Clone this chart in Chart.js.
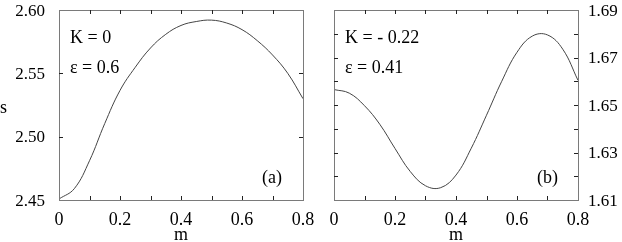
<!DOCTYPE html>
<html><head><meta charset="utf-8">
<script src="https://cdn.jsdelivr.net/npm/chart.js@4/dist/chart.umd.min.js"></script>
<style>
html,body{margin:0;padding:0;background:#fff;width:622px;height:242px;overflow:hidden}
canvas{position:absolute;top:0}
#ca{left:0}
#cb{left:300px}
#ov{position:absolute;left:0;top:0;width:622px;height:242px;pointer-events:none}
#ov span{position:absolute;white-space:nowrap;color:#000}
</style></head><body>
<canvas id="ca" width="330" height="242"></canvas>
<canvas id="cb" width="322" height="242"></canvas>
<div id="ov"></div>
<script>
// ---- data ----
const mValues = [0, 0.05, 0.1, 0.15, 0.2, 0.25, 0.3, 0.35, 0.4, 0.45, 0.5, 0.55, 0.6, 0.65, 0.7, 0.75, 0.8];
const sPanelA = [2.4508, 2.4589, 2.4810, 2.5104, 2.5365, 2.5548, 2.5700, 2.5808, 2.5878, 2.5909, 2.5920, 2.5897, 2.5845, 2.5758, 2.5645, 2.5500, 2.5300];
const sPanelB = [1.6565, 1.6550, 1.6497, 1.6419, 1.6317, 1.6220, 1.6160, 1.6152, 1.6205, 1.6318, 1.6457, 1.6600, 1.6722, 1.6790, 1.6795, 1.6735, 1.6604];

const xTickValues = [0, 0.2, 0.4, 0.6, 0.8];
const xTickLabels = ['0', '0.2', '0.4', '0.6', '0.8'];
const xTickMarks = [0.1, 0.2, 0.3, 0.4, 0.5, 0.6, 0.7];

const yTickValuesA = [2.45, 2.50, 2.55, 2.60];
const yTickLabelsA = ['2.45', '2.50', '2.55', '2.60'];
const yTickMarksA = [2.50, 2.55];

const yTickValuesB = [1.61, 1.63, 1.65, 1.67, 1.69];
const yTickLabelsB = ['1.61', '1.63', '1.65', '1.67', '1.69'];
const yTickMarksB = [1.62, 1.63, 1.64, 1.65, 1.66, 1.67, 1.68];

const notesA = ['K = 0', 'ε = 0.6', '(a)'];
const notesB = ['K = - 0.22', 'ε = 0.41', '(b)'];
const xTitle = 'm';
const yTitle = 's';

const SERIF = '"Liberation Serif", "Times New Roman", Times, serif';

const ov = document.getElementById('ov');
function addText(text, x, baseline, align, size) {
  const s = document.createElement('span');
  s.textContent = text;
  s.style.setProperty('font-family', SERIF, 'important');
  s.style.fontSize = size + 'px';
  s.style.lineHeight = size + 'px';
  s.style.top = (baseline - size * 0.845) + 'px';
  s.style.left = x + 'px';
  if (align === 'center') s.style.transform = 'translateX(-50%)';
  if (align === 'right') s.style.transform = 'translateX(-100%)';
  ov.appendChild(s);
}

const framePlugin = {
  id: 'frame',
  afterDraw(chart) {
    const ctx = chart.ctx, a = chart.chartArea;
    const xs = chart.scales.x, ys = chart.scales.y;
    const yMarks = chart.options.plugins.frame.yMarks;
    ctx.save();
    ctx.strokeStyle = '#7a7a7a';
    ctx.lineWidth = 1;
    ctx.strokeRect(Math.round(a.left) + 0.5, Math.round(a.top) + 0.5, Math.round(a.right - a.left), Math.round(a.bottom - a.top));
    ctx.strokeStyle = '#222';
    ctx.beginPath();
    const L = 4;
    xTickMarks.forEach(v => {
      const px = Math.round(xs.getPixelForValue(v)) + 0.5;
      ctx.moveTo(px, a.bottom); ctx.lineTo(px, a.bottom - L);
      ctx.moveTo(px, a.top); ctx.lineTo(px, a.top + L);
    });
    yMarks.forEach(v => {
      const py = Math.round(ys.getPixelForValue(v)) + 0.5;
      ctx.moveTo(a.left, py); ctx.lineTo(a.left + L, py);
      ctx.moveTo(a.right, py); ctx.lineTo(a.right - L, py);
    });
    ctx.stroke();
    ctx.restore();
  }
};

function makeChart(id, sValues, yMin, yMax, yMarks, yPos, pad, yWidth) {
  return new Chart(document.getElementById(id), {
    type: 'line',
    data: {
      datasets: [{
        data: mValues.map((m, i) => ({ x: m, y: sValues[i] })),
        borderColor: '#444',
        borderWidth: 1,
        pointRadius: 0,
        tension: 0.4,
        fill: false
      }]
    },
    options: {
      responsive: false,
      animation: false,
      devicePixelRatio: 1,
      layout: { padding: pad },
      plugins: { legend: { display: false }, tooltip: { enabled: false }, frame: { yMarks: yMarks } },
      scales: {
        x: {
          type: 'linear', min: 0, max: 0.8,
          grid: { display: false, drawTicks: false },
          border: { display: false },
          afterFit: s => { s.height = 42; },
          ticks: { display: false }
        },
        y: {
          type: 'linear', min: yMin, max: yMax, position: yPos,
          grid: { display: false, drawTicks: false },
          border: { display: false },
          afterFit: s => { s.width = yWidth; },
          ticks: { display: false }
        }
      }
    },
    plugins: [framePlugin]
  });
}

function labelChart(chart, offX, yTicks, yLabels, yPos, notes, showY) {
  const a = chart.chartArea, xs = chart.scales.x, ys = chart.scales.y;
  xTickValues.forEach((v, i) => addText(xTickLabels[i], offX + xs.getPixelForValue(v), 225, 'center', 18));
  yTicks.forEach((v, i) => {
    const py = ys.getPixelForValue(v) + 6;
    if (yPos === 'left') addText(yLabels[i], offX + a.left - 14, py, 'right', 17);
    else addText(yLabels[i], offX + a.right + 10, py, 'left', 17);
  });
  addText(notes[0], offX + a.left + 11, 43, 'left', 18);
  addText(notes[1], offX + a.left + 11, 73, 'left', 18);
  addText(notes[2], offX + a.right - 41, 183, 'left', 18);
  addText(xTitle, offX + (a.left + a.right) / 2, 240, 'center', 18);
  if (showY) addText(yTitle, 0, 113, 'left', 18);
}

const chartA = makeChart('ca', sPanelA, 2.45, 2.60, yTickMarksA, 'left', { left: 0, right: 27, top: 10, bottom: 0 }, 59);
const chartB = makeChart('cb', sPanelB, 1.61, 1.69, yTickMarksB, 'right', { left: 34, right: 0, top: 10, bottom: 0 }, 44);
labelChart(chartA, 0, yTickValuesA, yTickLabelsA, 'left', notesA, true);
labelChart(chartB, 300, yTickValuesB, yTickLabelsB, 'right', notesB, false);
</script>
</body></html>
